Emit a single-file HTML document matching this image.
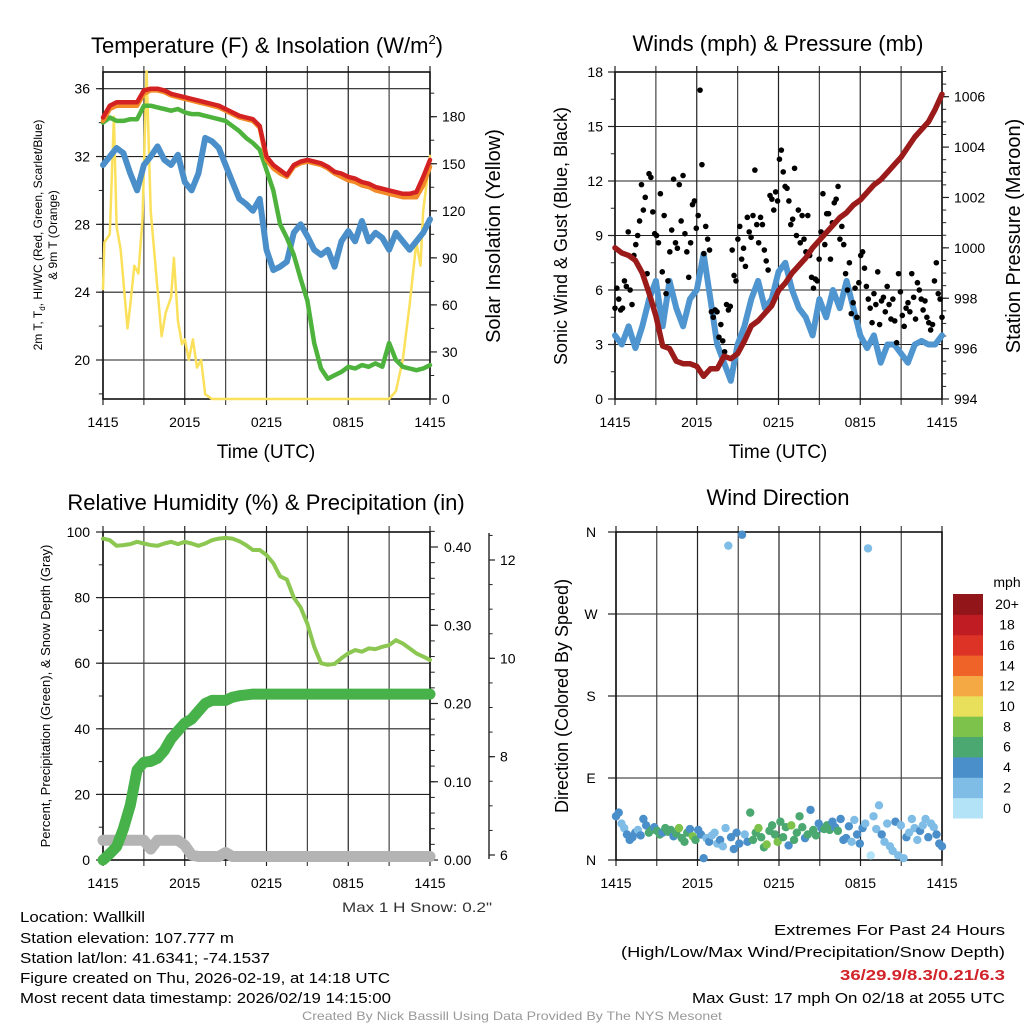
<!DOCTYPE html>
<html><head><meta charset="utf-8">
<style>
html,body{margin:0;padding:0;background:#fff;}
svg{display:block;font-family:"Liberation Sans",Arial,sans-serif;}
</style></head>
<body>
<svg id="fig" width="1024" height="1024" viewBox="0 0 1024 1024" xmlns="http://www.w3.org/2000/svg">
<rect width="1024" height="1024" fill="#fff"/>
<g id="p1"></g>
<g id="p2"></g>
<g id="p3"></g>
<g id="p4"></g>

<text x="267" y="53" font-size="22" text-anchor="middle">Temperature (F) &amp; Insolation (W/m<tspan font-size="13" dy="-9">2</tspan><tspan dy="9">)</tspan></text>
<text x="778" y="51" font-size="22" text-anchor="middle">Winds (mph) &amp; Pressure (mb)</text>
<text x="266" y="510" font-size="22" text-anchor="middle">Relative Humidity (%) &amp; Precipitation (in)</text>
<text x="778" y="505" font-size="22" text-anchor="middle">Wind Direction</text>

<text x="266" y="458" font-size="19" text-anchor="middle">Time (UTC)</text>
<text x="778" y="458" font-size="19" text-anchor="middle">Time (UTC)</text>

<text transform="translate(42,235) rotate(-90)" font-size="12" text-anchor="middle">2m T, T<tspan font-size="8" dy="3">d</tspan><tspan dy="-3">, HI/WC (Red, Green, Scarlet/Blue)</tspan></text>
<text transform="translate(57,235) rotate(-90)" font-size="12" text-anchor="middle">&amp; 9m T (Orange)</text>
<text transform="translate(500,236) rotate(-90)" font-size="20" text-anchor="middle">Solar Insolation (Yellow)</text>
<text transform="translate(567,236) rotate(-90)" font-size="18" text-anchor="middle">Sonic Wind &amp; Gust (Blue, Black)</text>
<text transform="translate(1020,236) rotate(-90)" font-size="20" text-anchor="middle">Station Pressure (Maroon)</text>
<text transform="translate(50,696) rotate(-90)" font-size="13" text-anchor="middle">Percent, Precipitation (Green), &amp; Snow Depth (Gray)</text>
<text transform="translate(568,696) rotate(-90)" font-size="18" text-anchor="middle">Direction (Colored By Speed)</text>

<text x="342" y="912" font-size="14" textLength="150" lengthAdjust="spacingAndGlyphs" fill="#333">Max 1 H Snow: 0.2"</text>
<g font-size="15">
<text x="20" y="922" textLength="125" lengthAdjust="spacingAndGlyphs">Location: Wallkill</text>
<text x="20" y="943" textLength="214" lengthAdjust="spacingAndGlyphs">Station elevation: 107.777 m</text>
<text x="20" y="963" textLength="250" lengthAdjust="spacingAndGlyphs">Station lat/lon: 41.6341; -74.1537</text>
<text x="20" y="983" textLength="370" lengthAdjust="spacingAndGlyphs">Figure created on Thu, 2026-02-19, at 14:18 UTC</text>
<text x="20" y="1003" textLength="371" lengthAdjust="spacingAndGlyphs">Most recent data timestamp: 2026/02/19 14:15:00</text>
</g>
<g font-size="15">
<text x="774" y="935" textLength="231" lengthAdjust="spacingAndGlyphs">Extremes For Past 24 Hours</text>
<text x="621" y="957" textLength="384" lengthAdjust="spacingAndGlyphs">(High/Low/Max Wind/Precipitation/Snow Depth)</text>
<text x="840" y="980" textLength="165" lengthAdjust="spacingAndGlyphs" fill="#d2232a" font-weight="bold">36/29.9/8.3/0.21/6.3</text>
<text x="692" y="1003" textLength="313" lengthAdjust="spacingAndGlyphs">Max Gust: 17 mph On 02/18 at 2055 UTC</text>
</g>
<text x="302" y="1020" font-size="12" textLength="420" lengthAdjust="spacingAndGlyphs" fill="#999">Created By Nick Bassill Using Data Provided By The NYS Mesonet</text>
</svg>
<script>
// ---------- DATA ----------
const timeLabels = ["1415","2015","0215","0815","1415"];
// Panel 1 (30-min, 49 pts)
const tempRed = [34.3,35.0,35.2,35.2,35.2,35.2,35.9,36.0,36.0,35.9,35.7,35.6,35.5,35.4,35.3,35.2,35.1,35.0,34.8,34.6,34.4,34.3,34.2,33.8,32.0,31.5,31.2,30.9,31.5,31.7,31.8,31.7,31.6,31.4,31.1,31.0,30.8,30.7,30.5,30.4,30.2,30.1,30.0,29.9,29.8,29.8,29.9,30.8,31.8];
const tempOrange = [34.1,34.8,35.0,35.0,35.0,35.0,35.7,35.9,35.9,35.8,35.6,35.5,35.4,35.3,35.2,35.1,35.0,34.9,34.7,34.5,34.3,34.2,34.1,33.7,31.8,31.3,31.0,30.8,31.4,31.6,31.7,31.6,31.5,31.3,31.0,30.8,30.6,30.5,30.3,30.2,30.0,29.9,29.8,29.7,29.6,29.6,29.6,30.3,31.4];
const tempGreen = [34.0,34.3,34.1,34.1,34.2,34.2,35.0,35.0,34.9,34.8,34.7,34.8,34.6,34.5,34.5,34.4,34.3,34.2,34.1,33.8,33.5,33.1,32.8,32.4,31.2,30.0,28.0,27.2,26.2,24.8,23.5,21.0,19.5,18.9,19.1,19.3,19.6,19.5,19.7,19.6,19.8,19.6,21.0,20.0,19.6,19.5,19.4,19.5,19.7];
const tempBlue = [31.5,32.0,32.5,32.2,31.0,30.0,31.5,32.0,32.6,31.8,31.5,32.1,30.5,30.0,31.0,33.1,32.9,32.5,31.5,30.5,29.5,29.2,28.8,29.5,26.5,25.3,25.5,25.8,27.5,28.0,27.3,26.5,26.2,26.5,25.5,27.0,27.6,27.0,28.2,27.0,27.5,27.2,26.5,27.5,27.0,26.5,27.0,27.5,28.3];
const solarTimes = [0,0.1,0.5,0.8,1.0,1.3,1.6,1.8,2.0,2.3,2.6,2.9,3.2,3.5,3.8,4.0,4.3,4.6,5.0,5.2,5.5,5.8,6.0,6.3,6.6,6.9,7.2,7.5,8.0,12,16,21,21.5,22,22.5,23,23.3,23.5,24];
const solarVals  = [70,100,105,180,110,95,65,45,60,85,80,115,209,120,90,70,40,55,65,90,50,35,38,25,38,20,25,3,0,0,0,0,5,25,60,100,85,120,155];
// Panel 2
const windSpeed = [3.5,3.0,4.0,2.8,4.0,5.5,6.5,4.0,6.5,5.0,4.0,5.5,6.0,8.0,5.5,3.0,2.0,1.0,3.0,4.0,5.5,6.5,5.0,5.5,7.0,7.5,6.0,5.0,4.5,3.5,5.5,4.5,6.0,5.0,6.5,5.0,3.5,2.8,3.5,2.0,3.0,3.0,2.5,2.0,3.0,3.2,3.0,3.0,3.5];
const gustVals = [5,6.1,5.5,4.9,5,6.5,6.2,9.2,6.0,5.2,7.9,8.5,9.0,9.8,11.8,10.4,11.1,6.9,12.4,12.2,10.3,9.1,9.0,8.6,11.3,7.0,10.1,5.8,6.5,8.1,9.3,12.1,8.6,8.3,11.8,9.8,12.3,9.1,8.1,6.7,8.6,10.7,10.9,9.4,10.1,17.0,12.9,8.0,9.5,8.8,8.2,4.8,4.5,4.9,4.8,3.4,4.1,3.2,2.6,5.2,4.9,5.1,8.2,6.8,6.5,8.8,9.5,7.7,8.3,7.3,10.0,9.2,8.9,10.1,12.6,9.6,8.6,10.0,9.6,8.2,7.6,7.1,11.2,11.0,10.4,11.4,10.9,13.2,13.7,12.5,11.7,11.6,10.9,9.6,9.9,12.7,9.0,10.4,8.6,10.1,8.8,8.1,10.1,7.9,6.7,6.1,6.6,6.5,7.7,9.2,11.3,8.5,10.2,10.2,7.7,9.7,10.8,11.0,11.7,8.8,9.5,8.5,6.9,6.0,7.5,4.7,5.3,6.1,4.5,6.4,7.9,8.1,7.2,6.2,5.5,5.0,4.2,5.8,5.2,7.0,4.1,5.4,5.6,4.8,6.2,5.2,4.4,5.5,4.3,3.1,6.9,5.9,4.6,4.0,5.0,5.3,4.8,6.9,5.6,4.4,6.4,6.0,5.5,4.9,5.4,4.5,4.2,3.8,4.1,6.5,7.5,5.8,5.5,4.5];
const pressure = [1000.0,999.8,999.7,999.5,999.0,998.2,997.3,996.1,996.0,995.5,995.4,995.4,995.3,994.9,995.2,995.2,995.7,995.6,995.8,996.3,996.9,997.1,997.4,997.7,998.3,998.6,999.0,999.3,999.6,1000.0,1000.3,1000.6,1000.9,1001.2,1001.4,1001.7,1001.9,1002.2,1002.5,1002.7,1003.0,1003.3,1003.6,1004.0,1004.4,1004.7,1005.0,1005.5,1006.1];
// Panel 3
const rhVals = [98,97.5,95.8,96,96.3,97,96.5,96.0,95.8,96.5,97,96.3,97,96.5,95.8,96.5,97.5,98,98.2,98,97.2,96,94.5,94.5,93,90.5,86.5,85.5,80,77,72,65,60,59.5,59.8,61.5,63,64,63.5,64.5,64.3,65,65.5,67,66,64.5,63,62,61];
const precipVals = [0,0.008,0.017,0.04,0.07,0.115,0.125,0.126,0.13,0.14,0.155,0.165,0.175,0.18,0.19,0.2,0.204,0.204,0.204,0.208,0.21,0.211,0.212,0.212,0.212,0.212,0.212,0.212,0.212,0.212,0.212,0.212,0.212,0.212,0.212,0.212,0.212,0.212,0.212,0.212,0.212,0.212,0.212,0.212,0.212,0.212,0.212,0.212,0.212];
const snowVals = [6.3,6.3,6.3,6.3,6.3,6.3,6.3,6.12,6.3,6.3,6.3,6.3,6.2,6.0,5.97,5.97,5.97,5.97,6.05,5.97,5.97,5.97,5.97,5.97,5.97,5.97,5.97,5.97,5.97,5.97,5.97,5.97,5.97,5.97,5.97,5.97,5.97,5.97,5.97,5.97,5.97,5.97,5.97,5.97,5.97,5.97,5.97,5.97,5.97];
// Panel 4
const dirVals = [48,52,40,35,28,22,25,30,33,27,45,38,30,33,36,32,28,30,35,31,33,26,29,35,24,20,30,34,26,22,33,28,2,24,20,27,30,18,22,15,35,345,25,12,30,18,357,28,20,52,22,30,35,25,14,17,32,38,28,20,42,25,36,16,38,22,30,48,36,24,28,55,33,27,40,35,34,38,33,42,36,32,45,22,24,37,20,44,28,18,35,40,342,5,48,34,60,28,20,40,15,10,42,5,38,2,25,30,45,35,22,32,38,45,25,40,36,28,18,15];
const dirSpeed = [3.5,3.2,2.5,2.8,3.8,4.2,3.9,4.5,2.8,3.6,4.2,4.6,5.5,6.5,4.2,6.8,5.2,4.5,6.2,5.5,6.8,4.8,5.6,7.2,6.5,6.2,5.0,4.2,7.5,6.5,4.5,3.2,4.2,2.5,3.0,2.2,1.8,2.6,3.5,1.5,2.5,2.0,3.2,4.2,3.8,4.5,4.2,2.6,4.8,5.2,6.5,6.8,7.0,6.2,5.2,7.8,6.5,6.2,6.8,7.2,5.2,6.1,6.8,4.5,7.5,5.5,5.2,6.1,6.6,4.8,6.2,4.2,5.5,6.5,4.8,3.8,5.2,6.6,6.2,4.5,4.2,5.8,4.5,3.6,4.8,4.2,2.8,2.4,3.6,3.2,4.2,2.8,1.8,0.8,1.5,2.2,1.6,3.5,2.5,2.2,1.8,2.2,3.6,1.5,2.5,1.2,3.8,2.2,2.5,2.8,1.8,3.2,2.6,2.4,3.9,2.5,2.8,4.2,3.5,3.8];
const dirLabels = ["N","E","S","W","N"];
const cbLabels = ["0","2","4","6","8","10","12","14","16","18","20+"];
const cbColors = ["#b3e3f7","#7fbde6","#4a8fc9","#4aa870","#7dc24b","#e8e05a","#f5a945","#ef6329","#dd3226","#bf1c24","#921519"];

// ---------- HELPERS ----------
const NS="http://www.w3.org/2000/svg";
function mk(parent,tag,attrs){const e=document.createElementNS(NS,tag);for(const k in attrs)e.setAttribute(k,attrs[k]);parent.appendChild(e);return e;}
function xScale(P){return h=>P.x0+h/24*(P.x1-P.x0);}
function lin(d0,d1,r0,r1){return v=>r0+(v-d0)/(d1-d0)*(r1-r0);}
function pathFrom(xs,ys){return xs.map((x,i)=>(i?"L":"M")+x.toFixed(1)+","+ys[i].toFixed(1)).join("");}
function evenTimes(n){return Array.from({length:n},(_,i)=>i*24/(n-1));}

function frame(g,P,hLines){
  const X=xScale(P);
  for(const y of hLines){
    const l=mk(g,"line",{x1:P.x0,x2:P.x1,y1:y,y2:y,stroke:"#222","stroke-width":1.1});
    
    
  }
  for(let h=0;h<=24;h+=3){
    const x=X(h);
    const l=mk(g,"line",{x1:x,x2:x,y1:P.y0-6,y2:P.y1+6,stroke:(h%6?"#444":"#222"),"stroke-width":1.2});
    
    
  }
  for(let i=0;i<timeLabels.length;i++){
    const t=mk(g,"text",{x:X(i*6),y:P.y1+28,"font-size":14,"text-anchor":"middle"});
    t.textContent=timeLabels[i];
    
    
  }
  const b=mk(g,"rect",{x:P.x0,y:P.y0,width:P.x1-P.x0,height:P.y1-P.y0,fill:"none",stroke:"#111","stroke-width":1.6});
  
  
}
function axisTicks(g,side,x,vals,scale,labels,minor,len,fs,labelDx){
  const dir=side==="left"?-1:1;
  for(const v of minor){const y=scale(v);const l=mk(g,"line",{x1:x,x2:x+dir*len*0.6,y1:y,y2:y,stroke:"#222","stroke-width":1});
    
    }
  vals.forEach((v,i)=>{const y=scale(v);
    const l=mk(g,"line",{x1:x,x2:x+dir*len,y1:y,y2:y,stroke:"#222","stroke-width":1.2});
    
    
    const t=mk(g,"text",{x:x+dir*(len+labelDx),y:y+fs*0.36,"font-size":fs,"text-anchor":side==="left"?"end":"start"});
    t.textContent=labels[i];
    
    });
}
function range(a,b,s){const r=[];for(let v=a;v<=b+1e-9;v+=s)r.push(+v.toFixed(4));return r;}
function line(g,xs,ys,color,w,name){
  const p=mk(g,"path",{d:pathFrom(xs,ys),fill:"none",stroke:color,"stroke-width":w,"stroke-linejoin":"round","stroke-linecap":"round"});
  
  
  return p;
}

// ---------- PANEL 1 ----------
(function(){
  const g=document.getElementById("p1");
  const P={x0:103,x1:430,y0:72,y1:399};
  const X=xScale(P);
  const yT=lin(20,36,360,88.7);
  const yS=lin(0,180,399,116.7);
  frame(g,P,[36,32,28,24,20].map(yT));
  axisTicks(g,"left",P.x0,[36,32,28,24,20],yT,["36","32","28","24","20"],range(18,36,2),7,14,6);
  axisTicks(g,"right",P.x1,[0,30,60,90,120,150,180],yS,["0","30","60","90","120","150","180"],range(0,205,15),7,14,5);
  const t=evenTimes(49);
  line(g,solarTimes.map(X),solarVals.map(yS),"#fbe15b",2.5,"solar-line");
  line(g,t.map(X),tempBlue.map(yT),"#4a8fc9",6,"blue-temp-line");
  line(g,t.map(X),tempGreen.map(yT),"#4db33d",4.5,"green-temp-line");
  line(g,t.map(X),tempOrange.map(yT),"#f28b27",4.5,"orange-temp-line");
  line(g,t.map(X),tempRed.map(yT),"#d42222",4.5,"red-temp-line");
})();

// ---------- PANEL 2 ----------
(function(){
  const g=document.getElementById("p2");
  const P={x0:615,x1:942,y0:72,y1:399};
  const X=xScale(P);
  const yW=lin(0,18,399,72);
  const yP=lin(994,1006,399,96.7);
  frame(g,P,[0,3,6,9,12,15,18].map(yW));
  axisTicks(g,"left",P.x0,[0,3,6,9,12,15,18],yW,["0","3","6","9","12","15","18"],range(0,18,1.5),7,14,5);
  axisTicks(g,"right",P.x1,[994,996,998,1000,1002,1004,1006],yP,["994","996","998","1000","1002","1004","1006"],range(994,1007,0.5),7,14,5);
  const t=evenTimes(49);
  line(g,t.map(X),windSpeed.map(yW),"#4f95d0",6,"wind-speed-line");
  const gt=evenTimes(gustVals.length);
  gustVals.forEach((v,i)=>{
    const c=mk(g,"circle",{cx:X(gt[i]),cy:yW(v),r:2.8,fill:"#000"});
    
    
  });
  line(g,t.map(X),pressure.map(yP),"#9b1a1a",5.5,"pressure-line");
})();

// ---------- PANEL 3 ----------
(function(){
  const g=document.getElementById("p3");
  const P={x0:103,x1:430,y0:532,y1:860};
  const X=xScale(P);
  const yR=lin(0,100,860,532);
  const yPr=lin(0,0.4,860,547);
  const ySn=lin(6,12,855,560);
  frame(g,P,[0,20,40,60,80,100].map(yR));
  axisTicks(g,"left",P.x0,[0,20,40,60,80,100],yR,["0","20","40","60","80","100"],range(0,100,10),7,14,6);
  axisTicks(g,"right",P.x1,[0,0.1,0.2,0.3,0.4],yPr,["0.00","0.10","0.20","0.30","0.40"],range(0,0.42,0.02),8,14,6);
  const ax=mk(g,"line",{x1:489,x2:489,y1:533,y2:859,stroke:"#222","stroke-width":1.4});
  
  
  axisTicks(g,"right",489,[6,8,10,12],ySn,["6","8","10","12"],range(6,12.5,0.5),6,14,5);
  const t=evenTimes(49);
  line(g,t.map(X),snowVals.map(ySn),"#b4b4b4",11,"snow-depth-line");
  line(g,t.map(X),precipVals.map(yPr),"#47b14a",11,"precip-line");
  line(g,t.map(X),rhVals.map(yR),"#8cc752",4,"rh-line");
})();

// ---------- PANEL 4 ----------
(function(){
  const g=document.getElementById("p4");
  const P={x0:616,x1:942,y0:532,y1:860};
  const X=xScale(P);
  const yD=lin(0,360,860,532);
  frame(g,P,[0,90,180,270,360].map(yD));
  dirLabels.forEach((lab,i)=>{
    const y=yD(i*90);
    const l=mk(g,"line",{x1:P.x0-8,x2:P.x0,y1:y,y2:y,stroke:"#222","stroke-width":1.2});
    
    
    const tx=mk(g,"text",{x:591,y:y+5,"font-size":14,"text-anchor":"middle"});
    tx.textContent=lab;
    
    
  });
  const t=evenTimes(dirVals.length);
  const colorFor=s=>cbColors[Math.min(10,Math.max(0,Math.round(s/2)))];
  dirVals.forEach((d,i)=>{
    const c=mk(g,"circle",{cx:X(t[i]),cy:yD(d),r:4.2,fill:colorFor(dirSpeed[i])});
    
    
  });
  const cb=mk(g,"g",{});
  
  
  const top=594,bot=818,h=(bot-top)/11;
  cbLabels.forEach((lab,i)=>{
    const y=bot-(i+1)*h;
    const r=mk(cb,"rect",{x:953,y:y,width:30,height:h+0.5,fill:cbColors[i]});
    
    
    const tx=mk(cb,"text",{x:1007,y:y+h/2+5,"font-size":14,"text-anchor":"middle"});
    tx.textContent=lab;
    
    
  });
  const u=mk(cb,"text",{x:1007,y:587,"font-size":14,"text-anchor":"middle"});
  u.textContent="mph";
  
  
})();
</script>
</body></html>
